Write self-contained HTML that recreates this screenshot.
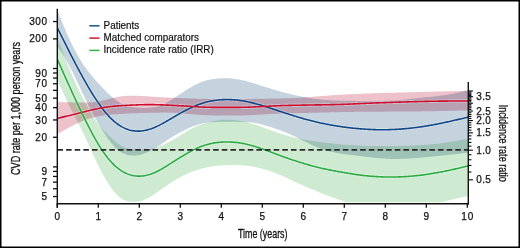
<!DOCTYPE html>
<html><head><meta charset="utf-8"><title>chart</title>
<style>html,body{margin:0;padding:0;background:#fff;}body{width:520px;height:248px;overflow:hidden;font-family:"Liberation Sans",sans-serif;}svg{display:block;will-change:transform;}</style>
</head><body>
<svg width="520" height="248" viewBox="0 0 520 248">
<rect x="0" y="0" width="520" height="248" fill="#fff"/>
<defs><clipPath id="pc"><rect x="57.3" y="8.7" width="410.9" height="193.5"/></clipPath></defs>
<g clip-path="url(#pc)">
<path d="M55,4.29L56,6.83L57,9.37L58,11.9L59,14.43L60,16.93L61,19.42L62,21.89L63,24.32L64,26.73L65,29.09L66,31.42L67,33.71L68,35.95L69,38.15L70,40.31L71,42.43L72,44.5L73,46.52L74,48.49L75,50.41L76,52.29L77,54.11L78,55.89L79,57.61L80,59.29L81,60.92L82,62.5L83,64.03L84,65.51L85,66.96L86,68.36L87,69.72L88,71.04L89,72.34L90,73.6L91,74.84L92,76.06L93,77.25L94,78.42L95,79.58L96,80.72L97,81.84L98,82.95L99,84.05L100,85.13L101,86.2L102,87.26L103,88.3L104,89.33L105,90.35L106,91.34L107,92.32L108,93.28L109,94.22L110,95.14L111,96.04L112,96.92L113,97.77L114,98.59L115,99.39L116,100.15L117,100.88L118,101.58L119,102.23L120,102.84L121,103.41L122,103.93L123,104.41L124,104.84L125,105.23L126,105.58L127,105.89L128,106.17L129,106.41L130,106.62L131,106.81L132,106.98L133,107.12L134,107.25L135,107.37L136,107.47L137,107.57L138,107.65L139,107.73L140,107.79L141,107.84L142,107.88L143,107.9L144,107.91L145,107.91L146,107.89L147,107.85L148,107.81L149,107.74L150,107.66L151,107.56L152,107.44L153,107.31L154,107.14L155,106.96L156,106.74L157,106.5L158,106.23L159,105.92L160,105.58L161,105.21L162,104.81L163,104.37L164,103.91L165,103.42L166,102.9L167,102.35L168,101.79L169,101.2L170,100.6L171,99.98L172,99.35L173,98.72L174,98.07L175,97.42L176,96.77L177,96.11L178,95.45L179,94.79L180,94.13L181,93.47L182,92.81L183,92.15L184,91.5L185,90.85L186,90.21L187,89.57L188,88.95L189,88.33L190,87.73L191,87.14L192,86.56L193,86L194,85.46L195,84.94L196,84.44L197,83.96L198,83.49L199,83.05L200,82.64L201,82.24L202,81.86L203,81.51L204,81.18L205,80.87L206,80.59L207,80.32L208,80.07L209,79.84L210,79.63L211,79.44L212,79.26L213,79.1L214,78.95L215,78.82L216,78.7L217,78.59L218,78.5L219,78.42L220,78.35L221,78.29L222,78.25L223,78.22L224,78.21L225,78.21L226,78.22L227,78.25L228,78.28L229,78.34L230,78.4L231,78.48L232,78.57L233,78.67L234,78.79L235,78.92L236,79.06L237,79.21L238,79.38L239,79.56L240,79.75L241,79.95L242,80.16L243,80.39L244,80.62L245,80.86L246,81.12L247,81.38L248,81.65L249,81.93L250,82.22L251,82.51L252,82.81L253,83.11L254,83.41L255,83.72L256,84.03L257,84.33L258,84.64L259,84.95L260,85.27L261,85.58L262,85.89L263,86.21L264,86.52L265,86.84L266,87.15L267,87.47L268,87.79L269,88.1L270,88.42L271,88.73L272,89.04L273,89.35L274,89.65L275,89.95L276,90.25L277,90.54L278,90.83L279,91.12L280,91.4L281,91.68L282,91.95L283,92.22L284,92.49L285,92.75L286,93.01L287,93.26L288,93.51L289,93.76L290,94L291,94.24L292,94.48L293,94.71L294,94.94L295,95.17L296,95.39L297,95.61L298,95.82L299,96.03L300,96.24L301,96.44L302,96.64L303,96.84L304,97.03L305,97.22L306,97.4L307,97.58L308,97.75L309,97.92L310,98.09L311,98.25L312,98.41L313,98.56L314,98.7L315,98.84L316,98.98L317,99.11L318,99.23L319,99.35L320,99.46L321,99.56L322,99.66L323,99.75L324,99.84L325,99.92L326,99.99L327,100.06L328,100.12L329,100.18L330,100.24L331,100.29L332,100.34L333,100.38L334,100.43L335,100.46L336,100.5L337,100.53L338,100.56L339,100.59L340,100.62L341,100.64L342,100.66L343,100.69L344,100.71L345,100.72L346,100.74L347,100.76L348,100.78L349,100.79L350,100.81L351,100.82L352,100.83L353,100.84L354,100.86L355,100.87L356,100.88L357,100.89L358,100.9L359,100.91L360,100.92L361,100.94L362,100.95L363,100.96L364,100.97L365,100.98L366,100.99L367,101L368,101.01L369,101.02L370,101.02L371,101.03L372,101.03L373,101.03L374,101.03L375,101.03L376,101.03L377,101.02L378,101.01L379,101L380,100.99L381,100.97L382,100.95L383,100.93L384,100.9L385,100.87L386,100.84L387,100.8L388,100.76L389,100.72L390,100.67L391,100.62L392,100.56L393,100.5L394,100.43L395,100.37L396,100.29L397,100.22L398,100.14L399,100.06L400,99.97L401,99.88L402,99.79L403,99.7L404,99.6L405,99.5L406,99.4L407,99.3L408,99.19L409,99.08L410,98.98L411,98.87L412,98.76L413,98.64L414,98.53L415,98.42L416,98.31L417,98.2L418,98.09L419,97.98L420,97.87L421,97.77L422,97.66L423,97.56L424,97.46L425,97.37L426,97.27L427,97.17L428,97.07L429,96.98L430,96.88L431,96.78L432,96.68L433,96.57L434,96.47L435,96.36L436,96.25L437,96.14L438,96.02L439,95.9L440,95.78L441,95.65L442,95.52L443,95.38L444,95.24L445,95.1L446,94.94L447,94.79L448,94.63L449,94.46L450,94.28L451,94.11L452,93.92L453,93.73L454,93.53L455,93.33L456,93.12L457,92.9L458,92.68L459,92.45L460,92.21L461,91.97L462,91.72L463,91.46L464,91.2L465,90.94L466,90.67L467,90.4L468,90.12L469,89.85L470,89.57L470,152.4L469,152.52L468,152.64L467,152.75L466,152.87L465,152.99L464,153.1L463,153.22L462,153.34L461,153.45L460,153.57L459,153.69L458,153.8L457,153.92L456,154.03L455,154.15L454,154.26L453,154.37L452,154.49L451,154.6L450,154.71L449,154.82L448,154.93L447,155.04L446,155.15L445,155.26L444,155.37L443,155.48L442,155.59L441,155.69L440,155.8L439,155.91L438,156.01L437,156.11L436,156.22L435,156.32L434,156.42L433,156.52L432,156.62L431,156.71L430,156.81L429,156.91L428,157L427,157.09L426,157.19L425,157.28L424,157.37L423,157.46L422,157.54L421,157.63L420,157.71L419,157.8L418,157.88L417,157.96L416,158.04L415,158.11L414,158.19L413,158.26L412,158.33L411,158.39L410,158.46L409,158.52L408,158.57L407,158.63L406,158.68L405,158.72L404,158.77L403,158.81L402,158.84L401,158.87L400,158.89L399,158.92L398,158.93L397,158.94L396,158.95L395,158.95L394,158.94L393,158.93L392,158.91L391,158.89L390,158.86L389,158.82L388,158.78L387,158.73L386,158.68L385,158.62L384,158.56L383,158.49L382,158.41L381,158.33L380,158.25L379,158.16L378,158.07L377,157.98L376,157.88L375,157.78L374,157.67L373,157.57L372,157.46L371,157.35L370,157.24L369,157.12L368,157L367,156.89L366,156.77L365,156.65L364,156.53L363,156.41L362,156.29L361,156.17L360,156.05L359,155.94L358,155.82L357,155.7L356,155.58L355,155.46L354,155.35L353,155.23L352,155.1L351,154.98L350,154.85L349,154.73L348,154.6L347,154.46L346,154.33L345,154.19L344,154.04L343,153.89L342,153.74L341,153.58L340,153.42L339,153.25L338,153.08L337,152.9L336,152.71L335,152.51L334,152.31L333,152.1L332,151.88L331,151.65L330,151.41L329,151.16L328,150.9L327,150.63L326,150.34L325,150.05L324,149.74L323,149.41L322,149.08L321,148.72L320,148.36L319,147.97L318,147.58L317,147.17L316,146.74L315,146.31L314,145.86L313,145.41L312,144.94L311,144.47L310,143.99L309,143.5L308,143.01L307,142.51L306,142.01L305,141.51L304,141.01L303,140.5L302,140L301,139.5L300,139L299,138.5L298,138.01L297,137.52L296,137.03L295,136.56L294,136.09L293,135.62L292,135.16L291,134.71L290,134.27L289,133.84L288,133.41L287,132.99L286,132.58L285,132.18L284,131.79L283,131.4L282,131.02L281,130.65L280,130.29L279,129.93L278,129.58L277,129.23L276,128.89L275,128.55L274,128.21L273,127.88L272,127.55L271,127.22L270,126.9L269,126.59L268,126.28L267,125.97L266,125.67L265,125.38L264,125.1L263,124.82L262,124.55L261,124.29L260,124.04L259,123.8L258,123.57L257,123.36L256,123.16L255,122.98L254,122.81L253,122.67L252,122.54L251,122.43L250,122.35L249,122.28L248,122.22L247,122.18L246,122.15L245,122.12L244,122.1L243,122.08L242,122.05L241,122.02L240,121.99L239,121.96L238,121.92L237,121.89L236,121.85L235,121.82L234,121.78L233,121.75L232,121.72L231,121.69L230,121.67L229,121.65L228,121.64L227,121.63L226,121.63L225,121.64L224,121.65L223,121.67L222,121.7L221,121.73L220,121.77L219,121.81L218,121.85L217,121.9L216,121.95L215,122L214,122.05L213,122.1L212,122.16L211,122.23L210,122.3L209,122.39L208,122.49L207,122.61L206,122.74L205,122.9L204,123.08L203,123.28L202,123.5L201,123.74L200,124.01L199,124.29L198,124.59L197,124.91L196,125.25L195,125.6L194,125.97L193,126.36L192,126.76L191,127.17L190,127.6L189,128.04L188,128.49L187,128.96L186,129.43L185,129.92L184,130.41L183,130.92L182,131.43L181,131.96L180,132.49L179,133.03L178,133.58L177,134.14L176,134.72L175,135.3L174,135.89L173,136.49L172,137.11L171,137.73L170,138.37L169,139.01L168,139.67L167,140.33L166,141L165,141.67L164,142.35L163,143.03L162,143.72L161,144.4L160,145.07L159,145.74L158,146.39L157,147.03L156,147.66L155,148.27L154,148.86L153,149.43L152,149.99L151,150.52L150,151.03L149,151.52L148,151.99L147,152.43L146,152.85L145,153.25L144,153.61L143,153.96L142,154.27L141,154.55L140,154.8L139,155.02L138,155.2L137,155.35L136,155.46L135,155.54L134,155.57L133,155.57L132,155.53L131,155.45L130,155.33L129,155.17L128,154.96L127,154.71L126,154.41L125,154.05L124,153.65L123,153.18L122,152.66L121,152.08L120,151.43L119,150.72L118,149.94L117,149.09L116,148.17L115,147.18L114,146.13L113,145.02L112,143.85L111,142.63L110,141.35L109,140.03L108,138.66L107,137.25L106,135.79L105,134.3L104,132.77L103,131.21L102,129.62L101,128.01L100,126.37L99,124.71L98,123.02L97,121.31L96,119.57L95,117.79L94,115.98L93,114.14L92,112.24L91,110.31L90,108.33L89,106.33L88,104.31L87,102.27L86,100.22L85,98.16L84,96.09L83,94.01L82,91.92L81,89.82L80,87.71L79,85.59L78,83.48L77,81.37L76,79.28L75,77.2L74,75.14L73,73.1L72,71.08L71,69.08L70,67.11L69,65.17L68,63.27L67,61.42L66,59.63L65,57.89L64,56.21L63,54.58L62,52.99L61,51.45L60,49.96L59,48.49L58,47.06L57,45.63L56,44.22Z" fill="rgb(197,211,223)" style="mix-blend-mode:multiply"/>
<path d="M56,102.08L57,102.09L58,102.1L59,102.11L60,102.12L61,102.13L62,102.14L63,102.15L64,102.17L65,102.18L66,102.2L67,102.22L68,102.24L69,102.26L70,102.29L71,102.32L72,102.35L73,102.38L74,102.41L75,102.44L76,102.47L77,102.5L78,102.53L79,102.55L80,102.58L81,102.59L82,102.61L83,102.61L84,102.61L85,102.61L86,102.59L87,102.57L88,102.54L89,102.5L90,102.45L91,102.38L92,102.31L93,102.22L94,102.12L95,102L96,101.87L97,101.71L98,101.54L99,101.36L100,101.15L101,100.93L102,100.7L103,100.46L104,100.21L105,99.96L106,99.7L107,99.43L108,99.17L109,98.9L110,98.64L111,98.38L112,98.14L113,97.9L114,97.67L115,97.46L116,97.25L117,97.06L118,96.88L119,96.72L120,96.56L121,96.42L122,96.3L123,96.18L124,96.08L125,96L126,95.92L127,95.86L128,95.81L129,95.78L130,95.75L131,95.73L132,95.72L133,95.72L134,95.73L135,95.74L136,95.76L137,95.79L138,95.82L139,95.85L140,95.89L141,95.93L142,95.98L143,96.03L144,96.09L145,96.15L146,96.21L147,96.28L148,96.35L149,96.42L150,96.49L151,96.57L152,96.64L153,96.72L154,96.79L155,96.87L156,96.93L157,97L158,97.06L159,97.12L160,97.18L161,97.23L162,97.28L163,97.33L164,97.38L165,97.43L166,97.47L167,97.51L168,97.55L169,97.59L170,97.63L171,97.67L172,97.71L173,97.75L174,97.79L175,97.83L176,97.87L177,97.91L178,97.95L179,97.99L180,98.03L181,98.07L182,98.11L183,98.15L184,98.19L185,98.23L186,98.27L187,98.31L188,98.35L189,98.38L190,98.42L191,98.46L192,98.49L193,98.52L194,98.56L195,98.59L196,98.62L197,98.65L198,98.67L199,98.7L200,98.72L201,98.74L202,98.77L203,98.79L204,98.81L205,98.83L206,98.84L207,98.86L208,98.87L209,98.89L210,98.9L211,98.91L212,98.92L213,98.94L214,98.94L215,98.95L216,98.96L217,98.97L218,98.98L219,98.98L220,98.99L221,98.99L222,98.99L223,99L224,99L225,99L226,99L227,99.01L228,99.01L229,99.01L230,99.01L231,99.01L232,99.01L233,99L234,99L235,99L236,99L237,98.99L238,98.99L239,98.98L240,98.98L241,98.97L242,98.97L243,98.96L244,98.95L245,98.94L246,98.94L247,98.93L248,98.92L249,98.91L250,98.9L251,98.89L252,98.88L253,98.86L254,98.85L255,98.84L256,98.83L257,98.81L258,98.8L259,98.78L260,98.77L261,98.76L262,98.74L263,98.72L264,98.71L265,98.69L266,98.68L267,98.66L268,98.64L269,98.63L270,98.61L271,98.59L272,98.58L273,98.56L274,98.54L275,98.52L276,98.5L277,98.48L278,98.46L279,98.44L280,98.42L281,98.4L282,98.37L283,98.35L284,98.32L285,98.3L286,98.27L287,98.24L288,98.21L289,98.17L290,98.14L291,98.1L292,98.06L293,98.02L294,97.98L295,97.93L296,97.89L297,97.84L298,97.79L299,97.73L300,97.68L301,97.62L302,97.56L303,97.5L304,97.43L305,97.36L306,97.29L307,97.22L308,97.15L309,97.07L310,97L311,96.92L312,96.84L313,96.77L314,96.69L315,96.61L316,96.52L317,96.44L318,96.36L319,96.28L320,96.2L321,96.12L322,96.04L323,95.96L324,95.88L325,95.8L326,95.72L327,95.64L328,95.57L329,95.49L330,95.42L331,95.35L332,95.28L333,95.21L334,95.14L335,95.07L336,95.01L337,94.95L338,94.88L339,94.82L340,94.77L341,94.71L342,94.65L343,94.6L344,94.54L345,94.49L346,94.44L347,94.38L348,94.33L349,94.28L350,94.24L351,94.19L352,94.14L353,94.1L354,94.05L355,94.01L356,93.96L357,93.92L358,93.88L359,93.84L360,93.8L361,93.76L362,93.72L363,93.68L364,93.64L365,93.6L366,93.56L367,93.53L368,93.49L369,93.45L370,93.42L371,93.38L372,93.35L373,93.31L374,93.28L375,93.25L376,93.21L377,93.18L378,93.15L379,93.11L380,93.08L381,93.05L382,93.02L383,92.99L384,92.96L385,92.93L386,92.9L387,92.87L388,92.84L389,92.81L390,92.78L391,92.76L392,92.73L393,92.7L394,92.67L395,92.64L396,92.62L397,92.59L398,92.56L399,92.54L400,92.51L401,92.48L402,92.46L403,92.43L404,92.41L405,92.38L406,92.35L407,92.33L408,92.3L409,92.28L410,92.25L411,92.23L412,92.2L413,92.18L414,92.15L415,92.13L416,92.1L417,92.07L418,92.05L419,92.02L420,92L421,91.97L422,91.95L423,91.92L424,91.9L425,91.87L426,91.85L427,91.82L428,91.8L429,91.77L430,91.74L431,91.72L432,91.69L433,91.67L434,91.64L435,91.62L436,91.59L437,91.56L438,91.54L439,91.51L440,91.49L441,91.46L442,91.43L443,91.41L444,91.38L445,91.36L446,91.33L447,91.3L448,91.28L449,91.25L450,91.23L451,91.2L452,91.17L453,91.15L454,91.12L455,91.09L456,91.07L457,91.04L458,91.02L459,90.99L460,90.96L461,90.94L462,90.91L463,90.88L464,90.86L465,90.83L466,90.81L467,90.78L468,90.75L469,90.73L470,90.7L470,110.3L469,110.33L468,110.35L467,110.38L466,110.41L465,110.43L464,110.46L463,110.49L462,110.51L461,110.54L460,110.57L459,110.59L458,110.62L457,110.64L456,110.67L455,110.69L454,110.72L453,110.74L452,110.77L451,110.79L450,110.82L449,110.84L448,110.87L447,110.89L446,110.91L445,110.94L444,110.96L443,110.98L442,111L441,111.03L440,111.05L439,111.07L438,111.09L437,111.11L436,111.13L435,111.15L434,111.17L433,111.19L432,111.21L431,111.23L430,111.25L429,111.26L428,111.28L427,111.3L426,111.31L425,111.33L424,111.34L423,111.36L422,111.37L421,111.38L420,111.4L419,111.41L418,111.42L417,111.43L416,111.44L415,111.45L414,111.46L413,111.47L412,111.48L411,111.49L410,111.5L409,111.51L408,111.51L407,111.52L406,111.53L405,111.53L404,111.54L403,111.54L402,111.55L401,111.56L400,111.56L399,111.57L398,111.57L397,111.57L396,111.58L395,111.58L394,111.59L393,111.59L392,111.6L391,111.6L390,111.6L389,111.61L388,111.61L387,111.62L386,111.62L385,111.62L384,111.63L383,111.63L382,111.64L381,111.64L380,111.65L379,111.65L378,111.66L377,111.66L376,111.67L375,111.67L374,111.68L373,111.69L372,111.69L371,111.7L370,111.71L369,111.71L368,111.72L367,111.73L366,111.74L365,111.75L364,111.76L363,111.77L362,111.78L361,111.79L360,111.8L359,111.82L358,111.83L357,111.84L356,111.86L355,111.87L354,111.88L353,111.9L352,111.92L351,111.93L350,111.95L349,111.97L348,111.98L347,112L346,112.02L345,112.04L344,112.06L343,112.08L342,112.1L341,112.12L340,112.14L339,112.16L338,112.18L337,112.2L336,112.22L335,112.25L334,112.27L333,112.29L332,112.31L331,112.34L330,112.36L329,112.38L328,112.41L327,112.43L326,112.45L325,112.48L324,112.5L323,112.53L322,112.55L321,112.58L320,112.6L319,112.63L318,112.65L317,112.68L316,112.7L315,112.73L314,112.75L313,112.77L312,112.8L311,112.82L310,112.85L309,112.87L308,112.9L307,112.92L306,112.95L305,112.97L304,113L303,113.02L302,113.04L301,113.07L300,113.09L299,113.11L298,113.14L297,113.16L296,113.18L295,113.2L294,113.23L293,113.25L292,113.27L291,113.3L290,113.32L289,113.35L288,113.37L287,113.4L286,113.43L285,113.45L284,113.48L283,113.51L282,113.54L281,113.58L280,113.61L279,113.64L278,113.68L277,113.72L276,113.76L275,113.8L274,113.84L273,113.89L272,113.94L271,113.98L270,114.04L269,114.09L268,114.14L267,114.2L266,114.26L265,114.32L264,114.38L263,114.44L262,114.5L261,114.56L260,114.62L259,114.68L258,114.74L257,114.8L256,114.86L255,114.92L254,114.97L253,115.02L252,115.07L251,115.12L250,115.16L249,115.2L248,115.24L247,115.27L246,115.3L245,115.33L244,115.36L243,115.38L242,115.4L241,115.42L240,115.44L239,115.46L238,115.47L237,115.48L236,115.49L235,115.5L234,115.51L233,115.51L232,115.52L231,115.52L230,115.52L229,115.52L228,115.52L227,115.52L226,115.52L225,115.52L224,115.52L223,115.51L222,115.51L221,115.5L220,115.49L219,115.48L218,115.47L217,115.45L216,115.44L215,115.42L214,115.4L213,115.38L212,115.35L211,115.32L210,115.29L209,115.26L208,115.22L207,115.19L206,115.15L205,115.1L204,115.06L203,115.01L202,114.96L201,114.9L200,114.85L199,114.79L198,114.73L197,114.66L196,114.59L195,114.52L194,114.45L193,114.37L192,114.29L191,114.21L190,114.13L189,114.04L188,113.95L187,113.86L186,113.76L185,113.67L184,113.58L183,113.49L182,113.4L181,113.32L180,113.24L179,113.16L178,113.08L177,113.02L176,112.96L175,112.9L174,112.85L173,112.8L172,112.76L171,112.73L170,112.7L169,112.67L168,112.65L167,112.63L166,112.62L165,112.61L164,112.6L163,112.6L162,112.61L161,112.61L160,112.62L159,112.63L158,112.64L157,112.66L156,112.68L155,112.7L154,112.72L153,112.75L152,112.77L151,112.8L150,112.82L149,112.85L148,112.88L147,112.9L146,112.93L145,112.96L144,112.98L143,113.01L142,113.03L141,113.06L140,113.08L139,113.11L138,113.14L137,113.16L136,113.19L135,113.22L134,113.25L133,113.28L132,113.32L131,113.36L130,113.39L129,113.44L128,113.48L127,113.53L126,113.58L125,113.63L124,113.69L123,113.75L122,113.81L121,113.88L120,113.94L119,114.02L118,114.09L117,114.17L116,114.25L115,114.34L114,114.43L113,114.52L112,114.61L111,114.7L110,114.8L109,114.9L108,115L107,115.11L106,115.22L105,115.34L104,115.47L103,115.6L102,115.74L101,115.89L100,116.05L99,116.23L98,116.41L97,116.61L96,116.82L95,117.04L94,117.28L93,117.53L92,117.79L91,118.07L90,118.36L89,118.67L88,118.99L87,119.33L86,119.68L85,120.05L84,120.43L83,120.82L82,121.23L81,121.65L80,122.09L79,122.53L78,123L77,123.47L76,123.95L75,124.45L74,124.95L73,125.46L72,125.98L71,126.5L70,127.03L69,127.57L68,128.11L67,128.65L66,129.2L65,129.74L64,130.29L63,130.84L62,131.39L61,131.94L60,132.49L59,133.04L58,133.6L57,134.15L56,134.7Z" fill="rgb(237,194,203)" style="mix-blend-mode:multiply"/>
<path d="M56,34.33L57,36.93L58,39.53L59,42.15L60,44.76L61,47.37L62,49.98L63,52.59L64,55.2L65,57.81L66,60.41L67,62.99L68,65.55L69,68.05L70,70.49L71,72.88L72,75.21L73,77.49L74,79.74L75,81.94L76,84.11L77,86.25L78,88.36L79,90.44L80,92.49L81,94.51L82,96.49L83,98.45L84,100.37L85,102.27L86,104.15L87,105.99L88,107.81L89,109.6L90,111.35L91,113.07L92,114.75L93,116.37L94,117.95L95,119.47L96,120.93L97,122.34L98,123.69L99,124.98L100,126.23L101,127.42L102,128.57L103,129.67L104,130.74L105,131.78L106,132.79L107,133.78L108,134.75L109,135.7L110,136.64L111,137.56L112,138.47L113,139.37L114,140.26L115,141.13L116,141.97L117,142.78L118,143.55L119,144.28L120,144.96L121,145.59L122,146.16L123,146.68L124,147.13L125,147.53L126,147.88L127,148.19L128,148.45L129,148.67L130,148.85L131,149L132,149.13L133,149.23L134,149.31L135,149.38L136,149.43L137,149.47L138,149.49L139,149.51L140,149.51L141,149.5L142,149.49L143,149.47L144,149.43L145,149.39L146,149.33L147,149.26L148,149.17L149,149.06L150,148.93L151,148.78L152,148.6L153,148.4L154,148.17L155,147.91L156,147.63L157,147.31L158,146.97L159,146.6L160,146.21L161,145.8L162,145.37L163,144.92L164,144.46L165,144L166,143.52L167,143.03L168,142.54L169,142.03L170,141.51L171,140.97L172,140.41L173,139.84L174,139.25L175,138.65L176,138.04L177,137.42L178,136.79L179,136.16L180,135.52L181,134.89L182,134.26L183,133.64L184,133.03L185,132.42L186,131.83L187,131.24L188,130.67L189,130.11L190,129.57L191,129.04L192,128.53L193,128.03L194,127.55L195,127.09L196,126.64L197,126.21L198,125.8L199,125.4L200,125.01L201,124.64L202,124.29L203,123.94L204,123.62L205,123.3L206,123L207,122.71L208,122.43L209,122.17L210,121.91L211,121.67L212,121.44L213,121.22L214,121.01L215,120.81L216,120.63L217,120.46L218,120.31L219,120.17L220,120.05L221,119.94L222,119.85L223,119.77L224,119.71L225,119.67L226,119.65L227,119.64L228,119.65L229,119.67L230,119.72L231,119.77L232,119.85L233,119.93L234,120.03L235,120.15L236,120.28L237,120.42L238,120.57L239,120.73L240,120.89L241,121.07L242,121.26L243,121.45L244,121.66L245,121.87L246,122.1L247,122.33L248,122.57L249,122.83L250,123.09L251,123.37L252,123.66L253,123.95L254,124.26L255,124.58L256,124.9L257,125.24L258,125.58L259,125.92L260,126.27L261,126.63L262,126.98L263,127.34L264,127.7L265,128.06L266,128.42L267,128.79L268,129.15L269,129.51L270,129.87L271,130.24L272,130.6L273,130.96L274,131.31L275,131.67L276,132.02L277,132.38L278,132.72L279,133.07L280,133.41L281,133.74L282,134.07L283,134.39L284,134.71L285,135.02L286,135.32L287,135.61L288,135.9L289,136.18L290,136.45L291,136.71L292,136.96L293,137.21L294,137.45L295,137.69L296,137.92L297,138.14L298,138.36L299,138.57L300,138.78L301,138.98L302,139.18L303,139.37L304,139.55L305,139.74L306,139.91L307,140.09L308,140.25L309,140.42L310,140.58L311,140.74L312,140.89L313,141.04L314,141.19L315,141.33L316,141.48L317,141.61L318,141.75L319,141.88L320,142.01L321,142.14L322,142.27L323,142.39L324,142.52L325,142.64L326,142.76L327,142.87L328,142.99L329,143.1L330,143.21L331,143.32L332,143.42L333,143.53L334,143.63L335,143.73L336,143.83L337,143.93L338,144.02L339,144.11L340,144.2L341,144.29L342,144.38L343,144.47L344,144.55L345,144.63L346,144.71L347,144.79L348,144.86L349,144.93L350,145.01L351,145.07L352,145.14L353,145.21L354,145.27L355,145.33L356,145.39L357,145.44L358,145.49L359,145.55L360,145.59L361,145.64L362,145.68L363,145.72L364,145.76L365,145.8L366,145.83L367,145.87L368,145.9L369,145.92L370,145.95L371,145.97L372,146L373,146.02L374,146.03L375,146.05L376,146.06L377,146.08L378,146.09L379,146.09L380,146.1L381,146.11L382,146.11L383,146.11L384,146.11L385,146.11L386,146.11L387,146.1L388,146.1L389,146.09L390,146.08L391,146.07L392,146.06L393,146.04L394,146.03L395,146.01L396,145.99L397,145.97L398,145.95L399,145.93L400,145.91L401,145.88L402,145.85L403,145.83L404,145.8L405,145.77L406,145.74L407,145.7L408,145.67L409,145.63L410,145.59L411,145.55L412,145.51L413,145.46L414,145.42L415,145.37L416,145.32L417,145.27L418,145.22L419,145.16L420,145.1L421,145.05L422,144.98L423,144.92L424,144.85L425,144.78L426,144.71L427,144.64L428,144.56L429,144.48L430,144.4L431,144.31L432,144.23L433,144.13L434,144.04L435,143.94L436,143.84L437,143.74L438,143.63L439,143.51L440,143.4L441,143.28L442,143.16L443,143.03L444,142.9L445,142.76L446,142.62L447,142.48L448,142.33L449,142.17L450,142.02L451,141.86L452,141.69L453,141.52L454,141.34L455,141.16L456,140.97L457,140.78L458,140.59L459,140.39L460,140.19L461,139.98L462,139.77L463,139.56L464,139.35L465,139.13L466,138.91L467,138.69L468,138.47L469,138.25L470,138.03L470,195.6L469,195.82L468,196.04L467,196.26L466,196.48L465,196.7L464,196.92L463,197.14L462,197.36L461,197.58L460,197.79L459,198.01L458,198.23L457,198.45L456,198.67L455,198.89L454,199.12L453,199.34L452,199.56L451,199.79L450,200.02L449,200.25L448,200.49L447,200.73L446,200.97L445,201.23L444,201.48L443,201.74L442,202L441,202.27L440,202.53L439,202.78L438,203.04L437,203.28L436,203.52L435,203.74L434,203.96L433,204.16L432,204.35L431,204.53L430,204.71L429,204.87L428,205.03L427,205.18L426,205.32L425,205.46L424,205.59L423,205.72L422,205.85L421,205.97L420,206.1L419,206.22L418,206.34L417,206.46L416,206.58L415,206.7L414,206.81L413,206.93L412,207.04L411,207.15L410,207.26L409,207.37L408,207.47L407,207.57L406,207.67L405,207.76L404,207.86L403,207.94L402,208.03L401,208.11L400,208.18L399,208.26L398,208.32L397,208.39L396,208.44L395,208.5L394,208.55L393,208.59L392,208.63L391,208.66L390,208.68L389,208.71L388,208.72L387,208.73L386,208.73L385,208.72L384,208.71L383,208.69L382,208.66L381,208.63L380,208.59L379,208.54L378,208.48L377,208.41L376,208.34L375,208.26L374,208.17L373,208.07L372,207.96L371,207.84L370,207.71L369,207.58L368,207.43L367,207.27L366,207.11L365,206.93L364,206.74L363,206.54L362,206.34L361,206.12L360,205.89L359,205.64L358,205.39L357,205.13L356,204.86L355,204.58L354,204.3L353,204.01L352,203.71L351,203.42L350,203.12L349,202.81L348,202.51L347,202.2L346,201.9L345,201.59L344,201.27L343,200.96L342,200.64L341,200.32L340,199.99L339,199.67L338,199.33L337,199L336,198.66L335,198.32L334,197.97L333,197.62L332,197.26L331,196.9L330,196.54L329,196.17L328,195.8L327,195.42L326,195.03L325,194.64L324,194.25L323,193.85L322,193.44L321,193.04L320,192.62L319,192.21L318,191.79L317,191.37L316,190.95L315,190.53L314,190.11L313,189.68L312,189.26L311,188.83L310,188.41L309,187.99L308,187.57L307,187.15L306,186.73L305,186.31L304,185.89L303,185.46L302,185.03L301,184.6L300,184.16L299,183.72L298,183.27L297,182.81L296,182.35L295,181.88L294,181.4L293,180.92L292,180.44L291,179.96L290,179.48L289,179L288,178.52L287,178.05L286,177.58L285,177.12L284,176.66L283,176.21L282,175.77L281,175.34L280,174.91L279,174.49L278,174.08L277,173.68L276,173.29L275,172.9L274,172.52L273,172.16L272,171.79L271,171.44L270,171.1L269,170.76L268,170.43L267,170.12L266,169.81L265,169.51L264,169.21L263,168.93L262,168.66L261,168.39L260,168.14L259,167.9L258,167.66L257,167.44L256,167.22L255,167.01L254,166.82L253,166.63L252,166.46L251,166.29L250,166.14L249,165.99L248,165.86L247,165.73L246,165.62L245,165.51L244,165.42L243,165.33L242,165.25L241,165.18L240,165.13L239,165.08L238,165.04L237,165.01L236,164.99L235,164.97L234,164.97L233,164.97L232,164.98L231,165L230,165.02L229,165.05L228,165.09L227,165.13L226,165.18L225,165.23L224,165.29L223,165.35L222,165.42L221,165.49L220,165.57L219,165.66L218,165.76L217,165.86L216,165.97L215,166.09L214,166.22L213,166.35L212,166.5L211,166.66L210,166.82L209,167L208,167.19L207,167.39L206,167.6L205,167.82L204,168.06L203,168.3L202,168.56L201,168.83L200,169.11L199,169.4L198,169.71L197,170.03L196,170.36L195,170.7L194,171.06L193,171.43L192,171.81L191,172.2L190,172.61L189,173.03L188,173.46L187,173.91L186,174.37L185,174.84L184,175.32L183,175.82L182,176.33L181,176.85L180,177.39L179,177.94L178,178.5L177,179.07L176,179.65L175,180.25L174,180.85L173,181.46L172,182.07L171,182.7L170,183.34L169,183.99L168,184.65L167,185.31L166,185.99L165,186.67L164,187.37L163,188.06L162,188.76L161,189.46L160,190.16L159,190.87L158,191.57L157,192.26L156,192.95L155,193.63L154,194.3L153,194.96L152,195.59L151,196.22L150,196.82L149,197.39L148,197.94L147,198.46L146,198.94L145,199.39L144,199.79L143,200.17L142,200.5L141,200.8L140,201.06L139,201.29L138,201.48L137,201.64L136,201.77L135,201.86L134,201.91L133,201.93L132,201.92L131,201.86L130,201.76L129,201.62L128,201.43L127,201.18L126,200.87L125,200.51L124,200.08L123,199.58L122,199.01L121,198.37L120,197.65L119,196.85L118,195.98L117,195.02L116,193.98L115,192.86L114,191.67L113,190.4L112,189.06L111,187.65L110,186.17L109,184.62L108,183.03L107,181.39L106,179.7L105,177.99L104,176.24L103,174.45L102,172.63L101,170.76L100,168.86L99,166.91L98,164.91L97,162.88L96,160.8L95,158.69L94,156.55L93,154.38L92,152.18L91,149.97L90,147.76L89,145.54L88,143.32L87,141.13L86,138.96L85,136.82L84,134.72L83,132.65L82,130.61L81,128.61L80,126.63L79,124.69L78,122.76L77,120.84L76,118.93L75,117.02L74,115.11L73,113.18L72,111.23L71,109.26L70,107.26L69,105.23L68,103.17L67,101.09L66,98.99L65,96.85L64,94.69L63,92.48L62,90.23L61,87.94L60,85.59L59,83.2L58,80.79L57,78.38L56,75.96Z" fill="rgb(206,235,210)" style="mix-blend-mode:multiply"/>
</g>
<g clip-path="url(#pc)" fill="none" stroke-width="3.4" stroke="#fff" stroke-opacity="0.3" stroke-linejoin="round">
<path d="M56.5,26.13L57.5,28.14L58.5,30.15L59.5,32.16L60.5,34.17L61.5,36.18L62.5,38.18L63.5,40.18L64.5,42.18L65.5,44.17L66.5,46.16L67.5,48.14L68.5,50.12L69.5,52.09L70.5,54.06L71.5,56.01L72.5,57.96L73.5,59.9L74.5,61.83L75.5,63.75L76.5,65.65L77.5,67.55L78.5,69.43L79.5,71.29L80.5,73.14L81.5,74.98L82.5,76.8L83.5,78.6L84.5,80.39L85.5,82.16L86.5,83.91L87.5,85.64L88.5,87.35L89.5,89.04L90.5,90.71L91.5,92.35L92.5,93.97L93.5,95.56L94.5,97.13L95.5,98.67L96.5,100.18L97.5,101.67L98.5,103.12L99.5,104.55L100.5,105.94L101.5,107.3L102.5,108.62L103.5,109.92L104.5,111.17L105.5,112.4L106.5,113.58L107.5,114.73L108.5,115.84L109.5,116.91L110.5,117.94L111.5,118.93L112.5,119.88L113.5,120.79L114.5,121.66L115.5,122.49L116.5,123.28L117.5,124.02L118.5,124.72L119.5,125.39L120.5,126.01L121.5,126.6L122.5,127.14L123.5,127.65L124.5,128.12L125.5,128.56L126.5,128.95L127.5,129.32L128.5,129.65L129.5,129.94L130.5,130.2L131.5,130.42L132.5,130.62L133.5,130.78L134.5,130.9L135.5,131L136.5,131.07L137.5,131.1L138.5,131.11L139.5,131.08L140.5,131.03L141.5,130.95L142.5,130.83L143.5,130.69L144.5,130.53L145.5,130.33L146.5,130.11L147.5,129.87L148.5,129.59L149.5,129.3L150.5,128.98L151.5,128.64L152.5,128.27L153.5,127.88L154.5,127.48L155.5,127.05L156.5,126.6L157.5,126.14L158.5,125.65L159.5,125.16L160.5,124.64L161.5,124.12L162.5,123.58L163.5,123.03L164.5,122.46L165.5,121.89L166.5,121.32L167.5,120.73L168.5,120.15L169.5,119.56L170.5,118.97L171.5,118.38L172.5,117.79L173.5,117.2L174.5,116.61L175.5,116.02L176.5,115.44L177.5,114.86L178.5,114.29L179.5,113.72L180.5,113.16L181.5,112.61L182.5,112.06L183.5,111.52L184.5,110.99L185.5,110.46L186.5,109.95L187.5,109.44L188.5,108.94L189.5,108.46L190.5,107.98L191.5,107.51L192.5,107.06L193.5,106.61L194.5,106.18L195.5,105.76L196.5,105.36L197.5,104.96L198.5,104.58L199.5,104.22L200.5,103.87L201.5,103.53L202.5,103.21L203.5,102.9L204.5,102.6L205.5,102.32L206.5,102.06L207.5,101.81L208.5,101.57L209.5,101.34L210.5,101.13L211.5,100.94L212.5,100.76L213.5,100.59L214.5,100.43L215.5,100.29L216.5,100.17L217.5,100.05L218.5,99.95L219.5,99.86L220.5,99.78L221.5,99.72L222.5,99.66L223.5,99.62L224.5,99.59L225.5,99.57L226.5,99.56L227.5,99.56L228.5,99.57L229.5,99.6L230.5,99.63L231.5,99.67L232.5,99.73L233.5,99.79L234.5,99.87L235.5,99.95L236.5,100.05L237.5,100.15L238.5,100.27L239.5,100.39L240.5,100.52L241.5,100.67L242.5,100.82L243.5,100.99L244.5,101.16L245.5,101.34L246.5,101.54L247.5,101.74L248.5,101.95L249.5,102.17L250.5,102.4L251.5,102.64L252.5,102.88L253.5,103.13L254.5,103.39L255.5,103.66L256.5,103.93L257.5,104.21L258.5,104.5L259.5,104.79L260.5,105.08L261.5,105.38L262.5,105.69L263.5,106L264.5,106.31L265.5,106.62L266.5,106.94L267.5,107.26L268.5,107.58L269.5,107.9L270.5,108.23L271.5,108.55L272.5,108.88L273.5,109.21L274.5,109.54L275.5,109.88L276.5,110.21L277.5,110.54L278.5,110.87L279.5,111.2L280.5,111.53L281.5,111.86L282.5,112.19L283.5,112.51L284.5,112.83L285.5,113.15L286.5,113.47L287.5,113.79L288.5,114.11L289.5,114.43L290.5,114.74L291.5,115.05L292.5,115.36L293.5,115.67L294.5,115.98L295.5,116.29L296.5,116.59L297.5,116.9L298.5,117.2L299.5,117.5L300.5,117.79L301.5,118.09L302.5,118.38L303.5,118.67L304.5,118.95L305.5,119.23L306.5,119.51L307.5,119.78L308.5,120.05L309.5,120.32L310.5,120.58L311.5,120.84L312.5,121.09L313.5,121.34L314.5,121.58L315.5,121.82L316.5,122.06L317.5,122.29L318.5,122.51L319.5,122.74L320.5,122.96L321.5,123.17L322.5,123.38L323.5,123.59L324.5,123.79L325.5,123.99L326.5,124.18L327.5,124.37L328.5,124.56L329.5,124.74L330.5,124.92L331.5,125.1L332.5,125.28L333.5,125.45L334.5,125.62L335.5,125.78L336.5,125.94L337.5,126.1L338.5,126.25L339.5,126.41L340.5,126.55L341.5,126.7L342.5,126.84L343.5,126.97L344.5,127.11L345.5,127.24L346.5,127.37L347.5,127.49L348.5,127.61L349.5,127.73L350.5,127.85L351.5,127.97L352.5,128.08L353.5,128.18L354.5,128.29L355.5,128.39L356.5,128.49L357.5,128.58L358.5,128.67L359.5,128.76L360.5,128.84L361.5,128.92L362.5,128.99L363.5,129.07L364.5,129.13L365.5,129.2L366.5,129.26L367.5,129.32L368.5,129.37L369.5,129.42L370.5,129.47L371.5,129.51L372.5,129.55L373.5,129.59L374.5,129.62L375.5,129.65L376.5,129.68L377.5,129.7L378.5,129.71L379.5,129.73L380.5,129.74L381.5,129.74L382.5,129.74L383.5,129.74L384.5,129.73L385.5,129.72L386.5,129.71L387.5,129.69L388.5,129.67L389.5,129.64L390.5,129.61L391.5,129.57L392.5,129.53L393.5,129.49L394.5,129.44L395.5,129.39L396.5,129.34L397.5,129.28L398.5,129.22L399.5,129.15L400.5,129.08L401.5,129L402.5,128.92L403.5,128.84L404.5,128.76L405.5,128.67L406.5,128.57L407.5,128.48L408.5,128.38L409.5,128.27L410.5,128.16L411.5,128.05L412.5,127.93L413.5,127.82L414.5,127.69L415.5,127.57L416.5,127.44L417.5,127.3L418.5,127.17L419.5,127.03L420.5,126.88L421.5,126.74L422.5,126.59L423.5,126.43L424.5,126.28L425.5,126.12L426.5,125.95L427.5,125.79L428.5,125.62L429.5,125.45L430.5,125.27L431.5,125.1L432.5,124.92L433.5,124.73L434.5,124.55L435.5,124.36L436.5,124.17L437.5,123.97L438.5,123.77L439.5,123.57L440.5,123.37L441.5,123.17L442.5,122.96L443.5,122.75L444.5,122.54L445.5,122.32L446.5,122.11L447.5,121.89L448.5,121.67L449.5,121.44L450.5,121.22L451.5,121L452.5,120.77L453.5,120.54L454.5,120.31L455.5,120.08L456.5,119.85L457.5,119.62L458.5,119.38L459.5,119.15L460.5,118.91L461.5,118.68L462.5,118.44L463.5,118.2L464.5,117.97L465.5,117.73L466.5,117.49L467.5,117.25L468.5,117.02"/>
<path d="M56.5,118.67L57.5,118.41L58.5,118.15L59.5,117.9L60.5,117.64L61.5,117.39L62.5,117.14L63.5,116.89L64.5,116.65L65.5,116.4L66.5,116.16L67.5,115.92L68.5,115.68L69.5,115.44L70.5,115.21L71.5,114.97L72.5,114.73L73.5,114.49L74.5,114.25L75.5,114.01L76.5,113.77L77.5,113.52L78.5,113.28L79.5,113.03L80.5,112.79L81.5,112.54L82.5,112.3L83.5,112.05L84.5,111.8L85.5,111.55L86.5,111.3L87.5,111.05L88.5,110.8L89.5,110.56L90.5,110.31L91.5,110.07L92.5,109.83L93.5,109.6L94.5,109.37L95.5,109.14L96.5,108.92L97.5,108.7L98.5,108.49L99.5,108.29L100.5,108.1L101.5,107.91L102.5,107.73L103.5,107.56L104.5,107.4L105.5,107.24L106.5,107.1L107.5,106.96L108.5,106.82L109.5,106.7L110.5,106.58L111.5,106.47L112.5,106.36L113.5,106.26L114.5,106.16L115.5,106.08L116.5,105.99L117.5,105.91L118.5,105.84L119.5,105.76L120.5,105.7L121.5,105.63L122.5,105.57L123.5,105.51L124.5,105.45L125.5,105.39L126.5,105.34L127.5,105.29L128.5,105.24L129.5,105.19L130.5,105.14L131.5,105.09L132.5,105.05L133.5,105.01L134.5,104.97L135.5,104.93L136.5,104.89L137.5,104.85L138.5,104.82L139.5,104.79L140.5,104.76L141.5,104.73L142.5,104.71L143.5,104.69L144.5,104.67L145.5,104.65L146.5,104.64L147.5,104.63L148.5,104.63L149.5,104.63L150.5,104.63L151.5,104.64L152.5,104.65L153.5,104.66L154.5,104.67L155.5,104.69L156.5,104.72L157.5,104.74L158.5,104.77L159.5,104.8L160.5,104.83L161.5,104.87L162.5,104.91L163.5,104.95L164.5,104.99L165.5,105.03L166.5,105.08L167.5,105.12L168.5,105.17L169.5,105.22L170.5,105.26L171.5,105.31L172.5,105.35L173.5,105.4L174.5,105.44L175.5,105.49L176.5,105.54L177.5,105.58L178.5,105.63L179.5,105.69L180.5,105.74L181.5,105.8L182.5,105.86L183.5,105.92L184.5,105.98L185.5,106.04L186.5,106.11L187.5,106.17L188.5,106.24L189.5,106.31L190.5,106.37L191.5,106.44L192.5,106.5L193.5,106.57L194.5,106.63L195.5,106.7L196.5,106.76L197.5,106.82L198.5,106.87L199.5,106.93L200.5,106.98L201.5,107.02L202.5,107.07L203.5,107.11L204.5,107.15L205.5,107.18L206.5,107.21L207.5,107.24L208.5,107.27L209.5,107.29L210.5,107.31L211.5,107.33L212.5,107.35L213.5,107.37L214.5,107.38L215.5,107.39L216.5,107.4L217.5,107.41L218.5,107.41L219.5,107.42L220.5,107.42L221.5,107.42L222.5,107.42L223.5,107.42L224.5,107.42L225.5,107.42L226.5,107.42L227.5,107.42L228.5,107.42L229.5,107.42L230.5,107.41L231.5,107.41L232.5,107.4L233.5,107.4L234.5,107.39L235.5,107.39L236.5,107.38L237.5,107.37L238.5,107.36L239.5,107.35L240.5,107.33L241.5,107.32L242.5,107.3L243.5,107.28L244.5,107.26L245.5,107.23L246.5,107.21L247.5,107.18L248.5,107.14L249.5,107.11L250.5,107.07L251.5,107.03L252.5,106.99L253.5,106.95L254.5,106.91L255.5,106.86L256.5,106.81L257.5,106.77L258.5,106.72L259.5,106.67L260.5,106.62L261.5,106.57L262.5,106.52L263.5,106.47L264.5,106.42L265.5,106.37L266.5,106.32L267.5,106.27L268.5,106.22L269.5,106.17L270.5,106.12L271.5,106.07L272.5,106.02L273.5,105.96L274.5,105.91L275.5,105.87L276.5,105.82L277.5,105.77L278.5,105.73L279.5,105.69L280.5,105.65L281.5,105.61L282.5,105.57L283.5,105.54L284.5,105.51L285.5,105.48L286.5,105.45L287.5,105.43L288.5,105.41L289.5,105.38L290.5,105.36L291.5,105.34L292.5,105.32L293.5,105.31L294.5,105.29L295.5,105.27L296.5,105.26L297.5,105.24L298.5,105.22L299.5,105.21L300.5,105.19L301.5,105.17L302.5,105.15L303.5,105.13L304.5,105.12L305.5,105.1L306.5,105.08L307.5,105.06L308.5,105.04L309.5,105.02L310.5,105.01L311.5,104.99L312.5,104.97L313.5,104.96L314.5,104.94L315.5,104.92L316.5,104.91L317.5,104.89L318.5,104.88L319.5,104.86L320.5,104.84L321.5,104.83L322.5,104.81L323.5,104.79L324.5,104.78L325.5,104.76L326.5,104.74L327.5,104.73L328.5,104.71L329.5,104.69L330.5,104.67L331.5,104.65L332.5,104.63L333.5,104.61L334.5,104.59L335.5,104.57L336.5,104.54L337.5,104.52L338.5,104.49L339.5,104.46L340.5,104.43L341.5,104.4L342.5,104.37L343.5,104.34L344.5,104.3L345.5,104.26L346.5,104.22L347.5,104.18L348.5,104.13L349.5,104.09L350.5,104.04L351.5,103.99L352.5,103.95L353.5,103.9L354.5,103.85L355.5,103.8L356.5,103.75L357.5,103.7L358.5,103.65L359.5,103.61L360.5,103.56L361.5,103.52L362.5,103.47L363.5,103.43L364.5,103.39L365.5,103.35L366.5,103.3L367.5,103.26L368.5,103.22L369.5,103.18L370.5,103.14L371.5,103.1L372.5,103.06L373.5,103.03L374.5,102.99L375.5,102.95L376.5,102.91L377.5,102.87L378.5,102.84L379.5,102.8L380.5,102.76L381.5,102.73L382.5,102.69L383.5,102.66L384.5,102.62L385.5,102.59L386.5,102.55L387.5,102.52L388.5,102.48L389.5,102.45L390.5,102.41L391.5,102.38L392.5,102.35L393.5,102.31L394.5,102.28L395.5,102.25L396.5,102.22L397.5,102.18L398.5,102.15L399.5,102.12L400.5,102.09L401.5,102.06L402.5,102.03L403.5,102L404.5,101.96L405.5,101.93L406.5,101.9L407.5,101.87L408.5,101.84L409.5,101.81L410.5,101.79L411.5,101.76L412.5,101.73L413.5,101.7L414.5,101.67L415.5,101.64L416.5,101.62L417.5,101.59L418.5,101.56L419.5,101.54L420.5,101.51L421.5,101.49L422.5,101.47L423.5,101.44L424.5,101.42L425.5,101.4L426.5,101.38L427.5,101.36L428.5,101.34L429.5,101.32L430.5,101.3L431.5,101.28L432.5,101.26L433.5,101.25L434.5,101.23L435.5,101.22L436.5,101.2L437.5,101.19L438.5,101.17L439.5,101.16L440.5,101.15L441.5,101.14L442.5,101.13L443.5,101.12L444.5,101.11L445.5,101.1L446.5,101.09L447.5,101.08L448.5,101.07L449.5,101.07L450.5,101.06L451.5,101.06L452.5,101.05L453.5,101.04L454.5,101.04L455.5,101.04L456.5,101.03L457.5,101.03L458.5,101.02L459.5,101.02L460.5,101.02L461.5,101.01L462.5,101.01L463.5,101.01L464.5,101L465.5,101L466.5,101L467.5,101L468.5,100.99"/>
<path d="M56.5,57.31L57.5,59.58L58.5,61.85L59.5,64.11L60.5,66.38L61.5,68.63L62.5,70.89L63.5,73.14L64.5,75.38L65.5,77.62L66.5,79.85L67.5,82.07L68.5,84.29L69.5,86.5L70.5,88.7L71.5,90.9L72.5,93.09L73.5,95.26L74.5,97.43L75.5,99.59L76.5,101.74L77.5,103.88L78.5,106L79.5,108.11L80.5,110.21L81.5,112.29L82.5,114.36L83.5,116.41L84.5,118.44L85.5,120.46L86.5,122.46L87.5,124.44L88.5,126.4L89.5,128.33L90.5,130.24L91.5,132.13L92.5,133.98L93.5,135.81L94.5,137.61L95.5,139.38L96.5,141.11L97.5,142.81L98.5,144.48L99.5,146.11L100.5,147.69L101.5,149.24L102.5,150.74L103.5,152.2L104.5,153.62L105.5,155L106.5,156.33L107.5,157.62L108.5,158.87L109.5,160.06L110.5,161.21L111.5,162.32L112.5,163.37L113.5,164.38L114.5,165.35L115.5,166.26L116.5,167.13L117.5,167.96L118.5,168.74L119.5,169.47L120.5,170.17L121.5,170.82L122.5,171.42L123.5,171.99L124.5,172.52L125.5,173.01L126.5,173.46L127.5,173.88L128.5,174.26L129.5,174.6L130.5,174.91L131.5,175.18L132.5,175.42L133.5,175.62L134.5,175.79L135.5,175.93L136.5,176.03L137.5,176.1L138.5,176.14L139.5,176.15L140.5,176.12L141.5,176.07L142.5,175.98L143.5,175.86L144.5,175.71L145.5,175.53L146.5,175.32L147.5,175.08L148.5,174.81L149.5,174.52L150.5,174.2L151.5,173.85L152.5,173.47L153.5,173.08L154.5,172.65L155.5,172.21L156.5,171.74L157.5,171.25L158.5,170.74L159.5,170.21L160.5,169.66L161.5,169.1L162.5,168.52L163.5,167.93L164.5,167.32L165.5,166.71L166.5,166.09L167.5,165.46L168.5,164.83L169.5,164.19L170.5,163.56L171.5,162.92L172.5,162.29L173.5,161.65L174.5,161.02L175.5,160.39L176.5,159.76L177.5,159.13L178.5,158.51L179.5,157.89L180.5,157.27L181.5,156.66L182.5,156.05L183.5,155.45L184.5,154.86L185.5,154.27L186.5,153.69L187.5,153.12L188.5,152.55L189.5,152L190.5,151.46L191.5,150.92L192.5,150.4L193.5,149.89L194.5,149.4L195.5,148.92L196.5,148.45L197.5,148L198.5,147.56L199.5,147.14L200.5,146.74L201.5,146.36L202.5,145.99L203.5,145.64L204.5,145.31L205.5,144.99L206.5,144.69L207.5,144.41L208.5,144.15L209.5,143.9L210.5,143.67L211.5,143.45L212.5,143.26L213.5,143.07L214.5,142.91L215.5,142.75L216.5,142.62L217.5,142.5L218.5,142.39L219.5,142.29L220.5,142.21L221.5,142.14L222.5,142.09L223.5,142.05L224.5,142.02L225.5,142L226.5,141.99L227.5,141.99L228.5,142.01L229.5,142.03L230.5,142.07L231.5,142.12L232.5,142.17L233.5,142.24L234.5,142.33L235.5,142.42L236.5,142.52L237.5,142.63L238.5,142.76L239.5,142.89L240.5,143.04L241.5,143.2L242.5,143.37L243.5,143.56L244.5,143.75L245.5,143.96L246.5,144.18L247.5,144.41L248.5,144.66L249.5,144.91L250.5,145.18L251.5,145.45L252.5,145.74L253.5,146.03L254.5,146.34L255.5,146.65L256.5,146.97L257.5,147.3L258.5,147.63L259.5,147.97L260.5,148.32L261.5,148.67L262.5,149.02L263.5,149.38L264.5,149.74L265.5,150.1L266.5,150.47L267.5,150.84L268.5,151.21L269.5,151.58L270.5,151.96L271.5,152.34L272.5,152.72L273.5,153.1L274.5,153.48L275.5,153.86L276.5,154.24L277.5,154.62L278.5,154.99L279.5,155.37L280.5,155.74L281.5,156.1L282.5,156.46L283.5,156.82L284.5,157.17L285.5,157.52L286.5,157.87L287.5,158.21L288.5,158.55L289.5,158.89L290.5,159.23L291.5,159.56L292.5,159.89L293.5,160.22L294.5,160.54L295.5,160.86L296.5,161.19L297.5,161.51L298.5,161.82L299.5,162.14L300.5,162.45L301.5,162.77L302.5,163.07L303.5,163.38L304.5,163.69L305.5,163.99L306.5,164.28L307.5,164.57L308.5,164.86L309.5,165.14L310.5,165.42L311.5,165.7L312.5,165.96L313.5,166.23L314.5,166.49L315.5,166.75L316.5,167L317.5,167.25L318.5,167.49L319.5,167.73L320.5,167.96L321.5,168.19L322.5,168.42L323.5,168.64L324.5,168.86L325.5,169.07L326.5,169.29L327.5,169.5L328.5,169.7L329.5,169.9L330.5,170.1L331.5,170.3L332.5,170.5L333.5,170.69L334.5,170.88L335.5,171.07L336.5,171.25L337.5,171.43L338.5,171.61L339.5,171.79L340.5,171.97L341.5,172.14L342.5,172.31L343.5,172.49L344.5,172.66L345.5,172.83L346.5,172.99L347.5,173.16L348.5,173.33L349.5,173.5L350.5,173.66L351.5,173.82L352.5,173.98L353.5,174.14L354.5,174.29L355.5,174.44L356.5,174.59L357.5,174.73L358.5,174.87L359.5,175L360.5,175.13L361.5,175.25L362.5,175.37L363.5,175.49L364.5,175.6L365.5,175.7L366.5,175.81L367.5,175.9L368.5,176L369.5,176.09L370.5,176.18L371.5,176.26L372.5,176.34L373.5,176.41L374.5,176.48L375.5,176.55L376.5,176.61L377.5,176.67L378.5,176.73L379.5,176.78L380.5,176.82L381.5,176.87L382.5,176.9L383.5,176.94L384.5,176.96L385.5,176.99L386.5,177.01L387.5,177.02L388.5,177.04L389.5,177.04L390.5,177.04L391.5,177.04L392.5,177.04L393.5,177.03L394.5,177.01L395.5,176.99L396.5,176.97L397.5,176.94L398.5,176.91L399.5,176.88L400.5,176.84L401.5,176.8L402.5,176.75L403.5,176.7L404.5,176.64L405.5,176.58L406.5,176.52L407.5,176.45L408.5,176.38L409.5,176.31L410.5,176.23L411.5,176.14L412.5,176.06L413.5,175.97L414.5,175.87L415.5,175.77L416.5,175.67L417.5,175.56L418.5,175.45L419.5,175.34L420.5,175.22L421.5,175.1L422.5,174.97L423.5,174.84L424.5,174.71L425.5,174.57L426.5,174.43L427.5,174.28L428.5,174.13L429.5,173.98L430.5,173.82L431.5,173.66L432.5,173.5L433.5,173.33L434.5,173.16L435.5,172.99L436.5,172.81L437.5,172.63L438.5,172.45L439.5,172.26L440.5,172.07L441.5,171.88L442.5,171.68L443.5,171.48L444.5,171.28L445.5,171.07L446.5,170.87L447.5,170.66L448.5,170.44L449.5,170.23L450.5,170.01L451.5,169.79L452.5,169.57L453.5,169.35L454.5,169.12L455.5,168.9L456.5,168.67L457.5,168.44L458.5,168.21L459.5,167.98L460.5,167.75L461.5,167.51L462.5,167.28L463.5,167.05L464.5,166.81L465.5,166.58L466.5,166.34L467.5,166.11L468.5,165.87"/>
</g>
<g clip-path="url(#pc)" fill="none" stroke-width="1.6" stroke-linejoin="round">
<path d="M56.5,26.13L57.5,28.14L58.5,30.15L59.5,32.16L60.5,34.17L61.5,36.18L62.5,38.18L63.5,40.18L64.5,42.18L65.5,44.17L66.5,46.16L67.5,48.14L68.5,50.12L69.5,52.09L70.5,54.06L71.5,56.01L72.5,57.96L73.5,59.9L74.5,61.83L75.5,63.75L76.5,65.65L77.5,67.55L78.5,69.43L79.5,71.29L80.5,73.14L81.5,74.98L82.5,76.8L83.5,78.6L84.5,80.39L85.5,82.16L86.5,83.91L87.5,85.64L88.5,87.35L89.5,89.04L90.5,90.71L91.5,92.35L92.5,93.97L93.5,95.56L94.5,97.13L95.5,98.67L96.5,100.18L97.5,101.67L98.5,103.12L99.5,104.55L100.5,105.94L101.5,107.3L102.5,108.62L103.5,109.92L104.5,111.17L105.5,112.4L106.5,113.58L107.5,114.73L108.5,115.84L109.5,116.91L110.5,117.94L111.5,118.93L112.5,119.88L113.5,120.79L114.5,121.66L115.5,122.49L116.5,123.28L117.5,124.02L118.5,124.72L119.5,125.39L120.5,126.01L121.5,126.6L122.5,127.14L123.5,127.65L124.5,128.12L125.5,128.56L126.5,128.95L127.5,129.32L128.5,129.65L129.5,129.94L130.5,130.2L131.5,130.42L132.5,130.62L133.5,130.78L134.5,130.9L135.5,131L136.5,131.07L137.5,131.1L138.5,131.11L139.5,131.08L140.5,131.03L141.5,130.95L142.5,130.83L143.5,130.69L144.5,130.53L145.5,130.33L146.5,130.11L147.5,129.87L148.5,129.59L149.5,129.3L150.5,128.98L151.5,128.64L152.5,128.27L153.5,127.88L154.5,127.48L155.5,127.05L156.5,126.6L157.5,126.14L158.5,125.65L159.5,125.16L160.5,124.64L161.5,124.12L162.5,123.58L163.5,123.03L164.5,122.46L165.5,121.89L166.5,121.32L167.5,120.73L168.5,120.15L169.5,119.56L170.5,118.97L171.5,118.38L172.5,117.79L173.5,117.2L174.5,116.61L175.5,116.02L176.5,115.44L177.5,114.86L178.5,114.29L179.5,113.72L180.5,113.16L181.5,112.61L182.5,112.06L183.5,111.52L184.5,110.99L185.5,110.46L186.5,109.95L187.5,109.44L188.5,108.94L189.5,108.46L190.5,107.98L191.5,107.51L192.5,107.06L193.5,106.61L194.5,106.18L195.5,105.76L196.5,105.36L197.5,104.96L198.5,104.58L199.5,104.22L200.5,103.87L201.5,103.53L202.5,103.21L203.5,102.9L204.5,102.6L205.5,102.32L206.5,102.06L207.5,101.81L208.5,101.57L209.5,101.34L210.5,101.13L211.5,100.94L212.5,100.76L213.5,100.59L214.5,100.43L215.5,100.29L216.5,100.17L217.5,100.05L218.5,99.95L219.5,99.86L220.5,99.78L221.5,99.72L222.5,99.66L223.5,99.62L224.5,99.59L225.5,99.57L226.5,99.56L227.5,99.56L228.5,99.57L229.5,99.6L230.5,99.63L231.5,99.67L232.5,99.73L233.5,99.79L234.5,99.87L235.5,99.95L236.5,100.05L237.5,100.15L238.5,100.27L239.5,100.39L240.5,100.52L241.5,100.67L242.5,100.82L243.5,100.99L244.5,101.16L245.5,101.34L246.5,101.54L247.5,101.74L248.5,101.95L249.5,102.17L250.5,102.4L251.5,102.64L252.5,102.88L253.5,103.13L254.5,103.39L255.5,103.66L256.5,103.93L257.5,104.21L258.5,104.5L259.5,104.79L260.5,105.08L261.5,105.38L262.5,105.69L263.5,106L264.5,106.31L265.5,106.62L266.5,106.94L267.5,107.26L268.5,107.58L269.5,107.9L270.5,108.23L271.5,108.55L272.5,108.88L273.5,109.21L274.5,109.54L275.5,109.88L276.5,110.21L277.5,110.54L278.5,110.87L279.5,111.2L280.5,111.53L281.5,111.86L282.5,112.19L283.5,112.51L284.5,112.83L285.5,113.15L286.5,113.47L287.5,113.79L288.5,114.11L289.5,114.43L290.5,114.74L291.5,115.05L292.5,115.36L293.5,115.67L294.5,115.98L295.5,116.29L296.5,116.59L297.5,116.9L298.5,117.2L299.5,117.5L300.5,117.79L301.5,118.09L302.5,118.38L303.5,118.67L304.5,118.95L305.5,119.23L306.5,119.51L307.5,119.78L308.5,120.05L309.5,120.32L310.5,120.58L311.5,120.84L312.5,121.09L313.5,121.34L314.5,121.58L315.5,121.82L316.5,122.06L317.5,122.29L318.5,122.51L319.5,122.74L320.5,122.96L321.5,123.17L322.5,123.38L323.5,123.59L324.5,123.79L325.5,123.99L326.5,124.18L327.5,124.37L328.5,124.56L329.5,124.74L330.5,124.92L331.5,125.1L332.5,125.28L333.5,125.45L334.5,125.62L335.5,125.78L336.5,125.94L337.5,126.1L338.5,126.25L339.5,126.41L340.5,126.55L341.5,126.7L342.5,126.84L343.5,126.97L344.5,127.11L345.5,127.24L346.5,127.37L347.5,127.49L348.5,127.61L349.5,127.73L350.5,127.85L351.5,127.97L352.5,128.08L353.5,128.18L354.5,128.29L355.5,128.39L356.5,128.49L357.5,128.58L358.5,128.67L359.5,128.76L360.5,128.84L361.5,128.92L362.5,128.99L363.5,129.07L364.5,129.13L365.5,129.2L366.5,129.26L367.5,129.32L368.5,129.37L369.5,129.42L370.5,129.47L371.5,129.51L372.5,129.55L373.5,129.59L374.5,129.62L375.5,129.65L376.5,129.68L377.5,129.7L378.5,129.71L379.5,129.73L380.5,129.74L381.5,129.74L382.5,129.74L383.5,129.74L384.5,129.73L385.5,129.72L386.5,129.71L387.5,129.69L388.5,129.67L389.5,129.64L390.5,129.61L391.5,129.57L392.5,129.53L393.5,129.49L394.5,129.44L395.5,129.39L396.5,129.34L397.5,129.28L398.5,129.22L399.5,129.15L400.5,129.08L401.5,129L402.5,128.92L403.5,128.84L404.5,128.76L405.5,128.67L406.5,128.57L407.5,128.48L408.5,128.38L409.5,128.27L410.5,128.16L411.5,128.05L412.5,127.93L413.5,127.82L414.5,127.69L415.5,127.57L416.5,127.44L417.5,127.3L418.5,127.17L419.5,127.03L420.5,126.88L421.5,126.74L422.5,126.59L423.5,126.43L424.5,126.28L425.5,126.12L426.5,125.95L427.5,125.79L428.5,125.62L429.5,125.45L430.5,125.27L431.5,125.1L432.5,124.92L433.5,124.73L434.5,124.55L435.5,124.36L436.5,124.17L437.5,123.97L438.5,123.77L439.5,123.57L440.5,123.37L441.5,123.17L442.5,122.96L443.5,122.75L444.5,122.54L445.5,122.32L446.5,122.11L447.5,121.89L448.5,121.67L449.5,121.44L450.5,121.22L451.5,121L452.5,120.77L453.5,120.54L454.5,120.31L455.5,120.08L456.5,119.85L457.5,119.62L458.5,119.38L459.5,119.15L460.5,118.91L461.5,118.68L462.5,118.44L463.5,118.2L464.5,117.97L465.5,117.73L466.5,117.49L467.5,117.25L468.5,117.02" stroke="rgb(18,72,135)"/>
<path d="M56.5,118.67L57.5,118.41L58.5,118.15L59.5,117.9L60.5,117.64L61.5,117.39L62.5,117.14L63.5,116.89L64.5,116.65L65.5,116.4L66.5,116.16L67.5,115.92L68.5,115.68L69.5,115.44L70.5,115.21L71.5,114.97L72.5,114.73L73.5,114.49L74.5,114.25L75.5,114.01L76.5,113.77L77.5,113.52L78.5,113.28L79.5,113.03L80.5,112.79L81.5,112.54L82.5,112.3L83.5,112.05L84.5,111.8L85.5,111.55L86.5,111.3L87.5,111.05L88.5,110.8L89.5,110.56L90.5,110.31L91.5,110.07L92.5,109.83L93.5,109.6L94.5,109.37L95.5,109.14L96.5,108.92L97.5,108.7L98.5,108.49L99.5,108.29L100.5,108.1L101.5,107.91L102.5,107.73L103.5,107.56L104.5,107.4L105.5,107.24L106.5,107.1L107.5,106.96L108.5,106.82L109.5,106.7L110.5,106.58L111.5,106.47L112.5,106.36L113.5,106.26L114.5,106.16L115.5,106.08L116.5,105.99L117.5,105.91L118.5,105.84L119.5,105.76L120.5,105.7L121.5,105.63L122.5,105.57L123.5,105.51L124.5,105.45L125.5,105.39L126.5,105.34L127.5,105.29L128.5,105.24L129.5,105.19L130.5,105.14L131.5,105.09L132.5,105.05L133.5,105.01L134.5,104.97L135.5,104.93L136.5,104.89L137.5,104.85L138.5,104.82L139.5,104.79L140.5,104.76L141.5,104.73L142.5,104.71L143.5,104.69L144.5,104.67L145.5,104.65L146.5,104.64L147.5,104.63L148.5,104.63L149.5,104.63L150.5,104.63L151.5,104.64L152.5,104.65L153.5,104.66L154.5,104.67L155.5,104.69L156.5,104.72L157.5,104.74L158.5,104.77L159.5,104.8L160.5,104.83L161.5,104.87L162.5,104.91L163.5,104.95L164.5,104.99L165.5,105.03L166.5,105.08L167.5,105.12L168.5,105.17L169.5,105.22L170.5,105.26L171.5,105.31L172.5,105.35L173.5,105.4L174.5,105.44L175.5,105.49L176.5,105.54L177.5,105.58L178.5,105.63L179.5,105.69L180.5,105.74L181.5,105.8L182.5,105.86L183.5,105.92L184.5,105.98L185.5,106.04L186.5,106.11L187.5,106.17L188.5,106.24L189.5,106.31L190.5,106.37L191.5,106.44L192.5,106.5L193.5,106.57L194.5,106.63L195.5,106.7L196.5,106.76L197.5,106.82L198.5,106.87L199.5,106.93L200.5,106.98L201.5,107.02L202.5,107.07L203.5,107.11L204.5,107.15L205.5,107.18L206.5,107.21L207.5,107.24L208.5,107.27L209.5,107.29L210.5,107.31L211.5,107.33L212.5,107.35L213.5,107.37L214.5,107.38L215.5,107.39L216.5,107.4L217.5,107.41L218.5,107.41L219.5,107.42L220.5,107.42L221.5,107.42L222.5,107.42L223.5,107.42L224.5,107.42L225.5,107.42L226.5,107.42L227.5,107.42L228.5,107.42L229.5,107.42L230.5,107.41L231.5,107.41L232.5,107.4L233.5,107.4L234.5,107.39L235.5,107.39L236.5,107.38L237.5,107.37L238.5,107.36L239.5,107.35L240.5,107.33L241.5,107.32L242.5,107.3L243.5,107.28L244.5,107.26L245.5,107.23L246.5,107.21L247.5,107.18L248.5,107.14L249.5,107.11L250.5,107.07L251.5,107.03L252.5,106.99L253.5,106.95L254.5,106.91L255.5,106.86L256.5,106.81L257.5,106.77L258.5,106.72L259.5,106.67L260.5,106.62L261.5,106.57L262.5,106.52L263.5,106.47L264.5,106.42L265.5,106.37L266.5,106.32L267.5,106.27L268.5,106.22L269.5,106.17L270.5,106.12L271.5,106.07L272.5,106.02L273.5,105.96L274.5,105.91L275.5,105.87L276.5,105.82L277.5,105.77L278.5,105.73L279.5,105.69L280.5,105.65L281.5,105.61L282.5,105.57L283.5,105.54L284.5,105.51L285.5,105.48L286.5,105.45L287.5,105.43L288.5,105.41L289.5,105.38L290.5,105.36L291.5,105.34L292.5,105.32L293.5,105.31L294.5,105.29L295.5,105.27L296.5,105.26L297.5,105.24L298.5,105.22L299.5,105.21L300.5,105.19L301.5,105.17L302.5,105.15L303.5,105.13L304.5,105.12L305.5,105.1L306.5,105.08L307.5,105.06L308.5,105.04L309.5,105.02L310.5,105.01L311.5,104.99L312.5,104.97L313.5,104.96L314.5,104.94L315.5,104.92L316.5,104.91L317.5,104.89L318.5,104.88L319.5,104.86L320.5,104.84L321.5,104.83L322.5,104.81L323.5,104.79L324.5,104.78L325.5,104.76L326.5,104.74L327.5,104.73L328.5,104.71L329.5,104.69L330.5,104.67L331.5,104.65L332.5,104.63L333.5,104.61L334.5,104.59L335.5,104.57L336.5,104.54L337.5,104.52L338.5,104.49L339.5,104.46L340.5,104.43L341.5,104.4L342.5,104.37L343.5,104.34L344.5,104.3L345.5,104.26L346.5,104.22L347.5,104.18L348.5,104.13L349.5,104.09L350.5,104.04L351.5,103.99L352.5,103.95L353.5,103.9L354.5,103.85L355.5,103.8L356.5,103.75L357.5,103.7L358.5,103.65L359.5,103.61L360.5,103.56L361.5,103.52L362.5,103.47L363.5,103.43L364.5,103.39L365.5,103.35L366.5,103.3L367.5,103.26L368.5,103.22L369.5,103.18L370.5,103.14L371.5,103.1L372.5,103.06L373.5,103.03L374.5,102.99L375.5,102.95L376.5,102.91L377.5,102.87L378.5,102.84L379.5,102.8L380.5,102.76L381.5,102.73L382.5,102.69L383.5,102.66L384.5,102.62L385.5,102.59L386.5,102.55L387.5,102.52L388.5,102.48L389.5,102.45L390.5,102.41L391.5,102.38L392.5,102.35L393.5,102.31L394.5,102.28L395.5,102.25L396.5,102.22L397.5,102.18L398.5,102.15L399.5,102.12L400.5,102.09L401.5,102.06L402.5,102.03L403.5,102L404.5,101.96L405.5,101.93L406.5,101.9L407.5,101.87L408.5,101.84L409.5,101.81L410.5,101.79L411.5,101.76L412.5,101.73L413.5,101.7L414.5,101.67L415.5,101.64L416.5,101.62L417.5,101.59L418.5,101.56L419.5,101.54L420.5,101.51L421.5,101.49L422.5,101.47L423.5,101.44L424.5,101.42L425.5,101.4L426.5,101.38L427.5,101.36L428.5,101.34L429.5,101.32L430.5,101.3L431.5,101.28L432.5,101.26L433.5,101.25L434.5,101.23L435.5,101.22L436.5,101.2L437.5,101.19L438.5,101.17L439.5,101.16L440.5,101.15L441.5,101.14L442.5,101.13L443.5,101.12L444.5,101.11L445.5,101.1L446.5,101.09L447.5,101.08L448.5,101.07L449.5,101.07L450.5,101.06L451.5,101.06L452.5,101.05L453.5,101.04L454.5,101.04L455.5,101.04L456.5,101.03L457.5,101.03L458.5,101.02L459.5,101.02L460.5,101.02L461.5,101.01L462.5,101.01L463.5,101.01L464.5,101L465.5,101L466.5,101L467.5,101L468.5,100.99" stroke="rgb(205,15,50)"/>
<path d="M56.5,57.31L57.5,59.58L58.5,61.85L59.5,64.11L60.5,66.38L61.5,68.63L62.5,70.89L63.5,73.14L64.5,75.38L65.5,77.62L66.5,79.85L67.5,82.07L68.5,84.29L69.5,86.5L70.5,88.7L71.5,90.9L72.5,93.09L73.5,95.26L74.5,97.43L75.5,99.59L76.5,101.74L77.5,103.88L78.5,106L79.5,108.11L80.5,110.21L81.5,112.29L82.5,114.36L83.5,116.41L84.5,118.44L85.5,120.46L86.5,122.46L87.5,124.44L88.5,126.4L89.5,128.33L90.5,130.24L91.5,132.13L92.5,133.98L93.5,135.81L94.5,137.61L95.5,139.38L96.5,141.11L97.5,142.81L98.5,144.48L99.5,146.11L100.5,147.69L101.5,149.24L102.5,150.74L103.5,152.2L104.5,153.62L105.5,155L106.5,156.33L107.5,157.62L108.5,158.87L109.5,160.06L110.5,161.21L111.5,162.32L112.5,163.37L113.5,164.38L114.5,165.35L115.5,166.26L116.5,167.13L117.5,167.96L118.5,168.74L119.5,169.47L120.5,170.17L121.5,170.82L122.5,171.42L123.5,171.99L124.5,172.52L125.5,173.01L126.5,173.46L127.5,173.88L128.5,174.26L129.5,174.6L130.5,174.91L131.5,175.18L132.5,175.42L133.5,175.62L134.5,175.79L135.5,175.93L136.5,176.03L137.5,176.1L138.5,176.14L139.5,176.15L140.5,176.12L141.5,176.07L142.5,175.98L143.5,175.86L144.5,175.71L145.5,175.53L146.5,175.32L147.5,175.08L148.5,174.81L149.5,174.52L150.5,174.2L151.5,173.85L152.5,173.47L153.5,173.08L154.5,172.65L155.5,172.21L156.5,171.74L157.5,171.25L158.5,170.74L159.5,170.21L160.5,169.66L161.5,169.1L162.5,168.52L163.5,167.93L164.5,167.32L165.5,166.71L166.5,166.09L167.5,165.46L168.5,164.83L169.5,164.19L170.5,163.56L171.5,162.92L172.5,162.29L173.5,161.65L174.5,161.02L175.5,160.39L176.5,159.76L177.5,159.13L178.5,158.51L179.5,157.89L180.5,157.27L181.5,156.66L182.5,156.05L183.5,155.45L184.5,154.86L185.5,154.27L186.5,153.69L187.5,153.12L188.5,152.55L189.5,152L190.5,151.46L191.5,150.92L192.5,150.4L193.5,149.89L194.5,149.4L195.5,148.92L196.5,148.45L197.5,148L198.5,147.56L199.5,147.14L200.5,146.74L201.5,146.36L202.5,145.99L203.5,145.64L204.5,145.31L205.5,144.99L206.5,144.69L207.5,144.41L208.5,144.15L209.5,143.9L210.5,143.67L211.5,143.45L212.5,143.26L213.5,143.07L214.5,142.91L215.5,142.75L216.5,142.62L217.5,142.5L218.5,142.39L219.5,142.29L220.5,142.21L221.5,142.14L222.5,142.09L223.5,142.05L224.5,142.02L225.5,142L226.5,141.99L227.5,141.99L228.5,142.01L229.5,142.03L230.5,142.07L231.5,142.12L232.5,142.17L233.5,142.24L234.5,142.33L235.5,142.42L236.5,142.52L237.5,142.63L238.5,142.76L239.5,142.89L240.5,143.04L241.5,143.2L242.5,143.37L243.5,143.56L244.5,143.75L245.5,143.96L246.5,144.18L247.5,144.41L248.5,144.66L249.5,144.91L250.5,145.18L251.5,145.45L252.5,145.74L253.5,146.03L254.5,146.34L255.5,146.65L256.5,146.97L257.5,147.3L258.5,147.63L259.5,147.97L260.5,148.32L261.5,148.67L262.5,149.02L263.5,149.38L264.5,149.74L265.5,150.1L266.5,150.47L267.5,150.84L268.5,151.21L269.5,151.58L270.5,151.96L271.5,152.34L272.5,152.72L273.5,153.1L274.5,153.48L275.5,153.86L276.5,154.24L277.5,154.62L278.5,154.99L279.5,155.37L280.5,155.74L281.5,156.1L282.5,156.46L283.5,156.82L284.5,157.17L285.5,157.52L286.5,157.87L287.5,158.21L288.5,158.55L289.5,158.89L290.5,159.23L291.5,159.56L292.5,159.89L293.5,160.22L294.5,160.54L295.5,160.86L296.5,161.19L297.5,161.51L298.5,161.82L299.5,162.14L300.5,162.45L301.5,162.77L302.5,163.07L303.5,163.38L304.5,163.69L305.5,163.99L306.5,164.28L307.5,164.57L308.5,164.86L309.5,165.14L310.5,165.42L311.5,165.7L312.5,165.96L313.5,166.23L314.5,166.49L315.5,166.75L316.5,167L317.5,167.25L318.5,167.49L319.5,167.73L320.5,167.96L321.5,168.19L322.5,168.42L323.5,168.64L324.5,168.86L325.5,169.07L326.5,169.29L327.5,169.5L328.5,169.7L329.5,169.9L330.5,170.1L331.5,170.3L332.5,170.5L333.5,170.69L334.5,170.88L335.5,171.07L336.5,171.25L337.5,171.43L338.5,171.61L339.5,171.79L340.5,171.97L341.5,172.14L342.5,172.31L343.5,172.49L344.5,172.66L345.5,172.83L346.5,172.99L347.5,173.16L348.5,173.33L349.5,173.5L350.5,173.66L351.5,173.82L352.5,173.98L353.5,174.14L354.5,174.29L355.5,174.44L356.5,174.59L357.5,174.73L358.5,174.87L359.5,175L360.5,175.13L361.5,175.25L362.5,175.37L363.5,175.49L364.5,175.6L365.5,175.7L366.5,175.81L367.5,175.9L368.5,176L369.5,176.09L370.5,176.18L371.5,176.26L372.5,176.34L373.5,176.41L374.5,176.48L375.5,176.55L376.5,176.61L377.5,176.67L378.5,176.73L379.5,176.78L380.5,176.82L381.5,176.87L382.5,176.9L383.5,176.94L384.5,176.96L385.5,176.99L386.5,177.01L387.5,177.02L388.5,177.04L389.5,177.04L390.5,177.04L391.5,177.04L392.5,177.04L393.5,177.03L394.5,177.01L395.5,176.99L396.5,176.97L397.5,176.94L398.5,176.91L399.5,176.88L400.5,176.84L401.5,176.8L402.5,176.75L403.5,176.7L404.5,176.64L405.5,176.58L406.5,176.52L407.5,176.45L408.5,176.38L409.5,176.31L410.5,176.23L411.5,176.14L412.5,176.06L413.5,175.97L414.5,175.87L415.5,175.77L416.5,175.67L417.5,175.56L418.5,175.45L419.5,175.34L420.5,175.22L421.5,175.1L422.5,174.97L423.5,174.84L424.5,174.71L425.5,174.57L426.5,174.43L427.5,174.28L428.5,174.13L429.5,173.98L430.5,173.82L431.5,173.66L432.5,173.5L433.5,173.33L434.5,173.16L435.5,172.99L436.5,172.81L437.5,172.63L438.5,172.45L439.5,172.26L440.5,172.07L441.5,171.88L442.5,171.68L443.5,171.48L444.5,171.28L445.5,171.07L446.5,170.87L447.5,170.66L448.5,170.44L449.5,170.23L450.5,170.01L451.5,169.79L452.5,169.57L453.5,169.35L454.5,169.12L455.5,168.9L456.5,168.67L457.5,168.44L458.5,168.21L459.5,167.98L460.5,167.75L461.5,167.51L462.5,167.28L463.5,167.05L464.5,166.81L465.5,166.58L466.5,166.34L467.5,166.11L468.5,165.87" stroke="rgb(45,172,68)"/>
</g>
<line x1="57.4" y1="149.85" x2="468.2" y2="149.85" stroke="#2a2a2a" stroke-width="1.8" stroke-dasharray="5.6 3.05"/>
<g stroke="#111" fill="none">
<line x1="57.3" y1="8.7" x2="57.3" y2="207.8" stroke-width="1.4"/>
<line x1="56.6" y1="203.8" x2="469.0" y2="203.8" stroke-width="1.4"/>
<line x1="468.3" y1="81.9" x2="468.3" y2="204.5" stroke-width="1.4"/>
<line x1="53" y1="21.55" x2="57.3" y2="21.55" stroke-width="1.3"/>
<line x1="53" y1="38.88" x2="57.3" y2="38.88" stroke-width="1.3"/>
<line x1="53" y1="68.50" x2="57.3" y2="68.50" stroke-width="1.3"/>
<line x1="53" y1="73.00" x2="57.3" y2="73.00" stroke-width="1.3"/>
<line x1="53" y1="78.04" x2="57.3" y2="78.04" stroke-width="1.3"/>
<line x1="53" y1="83.74" x2="57.3" y2="83.74" stroke-width="1.3"/>
<line x1="53" y1="90.33" x2="57.3" y2="90.33" stroke-width="1.3"/>
<line x1="53" y1="98.12" x2="57.3" y2="98.12" stroke-width="1.3"/>
<line x1="53" y1="107.66" x2="57.3" y2="107.66" stroke-width="1.3"/>
<line x1="53" y1="119.95" x2="57.3" y2="119.95" stroke-width="1.3"/>
<line x1="53" y1="137.28" x2="57.3" y2="137.28" stroke-width="1.3"/>
<line x1="53" y1="166.90" x2="57.3" y2="166.90" stroke-width="1.3"/>
<line x1="53" y1="171.40" x2="57.3" y2="171.40" stroke-width="1.3"/>
<line x1="53" y1="176.44" x2="57.3" y2="176.44" stroke-width="1.3"/>
<line x1="53" y1="182.14" x2="57.3" y2="182.14" stroke-width="1.3"/>
<line x1="53" y1="188.73" x2="57.3" y2="188.73" stroke-width="1.3"/>
<line x1="53" y1="196.52" x2="57.3" y2="196.52" stroke-width="1.3"/>
<line x1="57.30" y1="203.8" x2="57.30" y2="207.8" stroke-width="1.3"/>
<line x1="98.30" y1="203.8" x2="98.30" y2="207.8" stroke-width="1.3"/>
<line x1="139.30" y1="203.8" x2="139.30" y2="207.8" stroke-width="1.3"/>
<line x1="180.30" y1="203.8" x2="180.30" y2="207.8" stroke-width="1.3"/>
<line x1="221.30" y1="203.8" x2="221.30" y2="207.8" stroke-width="1.3"/>
<line x1="262.30" y1="203.8" x2="262.30" y2="207.8" stroke-width="1.3"/>
<line x1="303.30" y1="203.8" x2="303.30" y2="207.8" stroke-width="1.3"/>
<line x1="344.30" y1="203.8" x2="344.30" y2="207.8" stroke-width="1.3"/>
<line x1="385.30" y1="203.8" x2="385.30" y2="207.8" stroke-width="1.3"/>
<line x1="426.30" y1="203.8" x2="426.30" y2="207.8" stroke-width="1.3"/>
<line x1="467.30" y1="203.8" x2="467.30" y2="207.8" stroke-width="1.3"/>
<line x1="468.3" y1="179.82" x2="472.90" y2="179.82" stroke-width="1.15"/>
<line x1="468.3" y1="172.03" x2="471.40" y2="172.03" stroke-width="1.15"/>
<line x1="468.3" y1="165.44" x2="471.40" y2="165.44" stroke-width="1.15"/>
<line x1="468.3" y1="159.74" x2="471.40" y2="159.74" stroke-width="1.15"/>
<line x1="468.3" y1="154.70" x2="471.40" y2="154.70" stroke-width="1.15"/>
<line x1="468.3" y1="150.20" x2="472.90" y2="150.20" stroke-width="1.15"/>
<line x1="468.3" y1="146.13" x2="471.40" y2="146.13" stroke-width="1.15"/>
<line x1="468.3" y1="142.41" x2="471.40" y2="142.41" stroke-width="1.15"/>
<line x1="468.3" y1="138.99" x2="471.40" y2="138.99" stroke-width="1.15"/>
<line x1="468.3" y1="135.82" x2="471.40" y2="135.82" stroke-width="1.15"/>
<line x1="468.3" y1="132.87" x2="472.90" y2="132.87" stroke-width="1.15"/>
<line x1="468.3" y1="130.11" x2="471.40" y2="130.11" stroke-width="1.15"/>
<line x1="468.3" y1="127.52" x2="471.40" y2="127.52" stroke-width="1.15"/>
<line x1="468.3" y1="125.08" x2="471.40" y2="125.08" stroke-width="1.15"/>
<line x1="468.3" y1="122.77" x2="471.40" y2="122.77" stroke-width="1.15"/>
<line x1="468.3" y1="120.58" x2="472.90" y2="120.58" stroke-width="1.15"/>
<line x1="468.3" y1="118.49" x2="471.40" y2="118.49" stroke-width="1.15"/>
<line x1="468.3" y1="116.51" x2="471.40" y2="116.51" stroke-width="1.15"/>
<line x1="468.3" y1="114.61" x2="471.40" y2="114.61" stroke-width="1.15"/>
<line x1="468.3" y1="112.79" x2="471.40" y2="112.79" stroke-width="1.15"/>
<line x1="468.3" y1="111.04" x2="472.90" y2="111.04" stroke-width="1.15"/>
<line x1="468.3" y1="109.37" x2="471.40" y2="109.37" stroke-width="1.15"/>
<line x1="468.3" y1="107.75" x2="471.40" y2="107.75" stroke-width="1.15"/>
<line x1="468.3" y1="106.20" x2="471.40" y2="106.20" stroke-width="1.15"/>
<line x1="468.3" y1="104.70" x2="471.40" y2="104.70" stroke-width="1.15"/>
<line x1="468.3" y1="103.25" x2="472.90" y2="103.25" stroke-width="1.15"/>
<line x1="468.3" y1="101.85" x2="471.40" y2="101.85" stroke-width="1.15"/>
<line x1="468.3" y1="100.49" x2="471.40" y2="100.49" stroke-width="1.15"/>
<line x1="468.3" y1="99.18" x2="471.40" y2="99.18" stroke-width="1.15"/>
<line x1="468.3" y1="97.90" x2="471.40" y2="97.90" stroke-width="1.15"/>
<line x1="468.3" y1="96.66" x2="472.90" y2="96.66" stroke-width="1.15"/>
<line x1="468.3" y1="95.46" x2="471.40" y2="95.46" stroke-width="1.15"/>
<line x1="468.3" y1="94.29" x2="471.40" y2="94.29" stroke-width="1.15"/>
<line x1="468.3" y1="93.15" x2="471.40" y2="93.15" stroke-width="1.15"/>
<line x1="468.3" y1="92.04" x2="471.40" y2="92.04" stroke-width="1.15"/>
<line x1="468.3" y1="90.96" x2="472.90" y2="90.96" stroke-width="1.15"/>
</g>
<g font-family="Liberation Sans, sans-serif" font-size="10" fill="#111" stroke="#111" stroke-width="0.25">
<text x="47.6" y="25.15" text-anchor="end" letter-spacing="0.55">300</text>
<text x="47.6" y="42.48" text-anchor="end" letter-spacing="0.55">200</text>
<text x="47.6" y="76.60" text-anchor="end" letter-spacing="0.55">90</text>
<text x="47.6" y="87.34" text-anchor="end" letter-spacing="0.55">70</text>
<text x="47.6" y="101.72" text-anchor="end" letter-spacing="0.55">50</text>
<text x="47.6" y="111.26" text-anchor="end" letter-spacing="0.55">40</text>
<text x="47.6" y="123.55" text-anchor="end" letter-spacing="0.55">30</text>
<text x="47.6" y="140.88" text-anchor="end" letter-spacing="0.55">20</text>
<text x="47.6" y="175.00" text-anchor="end" letter-spacing="0.55">9</text>
<text x="47.6" y="185.74" text-anchor="end" letter-spacing="0.55">7</text>
<text x="47.6" y="200.12" text-anchor="end" letter-spacing="0.55">5</text>
<text x="57.30" y="219.6" text-anchor="middle">0</text>
<text x="98.30" y="219.6" text-anchor="middle">1</text>
<text x="139.30" y="219.6" text-anchor="middle">2</text>
<text x="180.30" y="219.6" text-anchor="middle">3</text>
<text x="221.30" y="219.6" text-anchor="middle">4</text>
<text x="262.30" y="219.6" text-anchor="middle">5</text>
<text x="303.30" y="219.6" text-anchor="middle">6</text>
<text x="344.30" y="219.6" text-anchor="middle">7</text>
<text x="385.30" y="219.6" text-anchor="middle">8</text>
<text x="426.30" y="219.6" text-anchor="middle">9</text>
<text x="467.70" y="219.6" text-anchor="middle" letter-spacing="0.8">10</text>
<text x="476.3" y="183.42" letter-spacing="0.3">0.5</text>
<text x="476.3" y="153.80" letter-spacing="0.3">1.0</text>
<text x="476.3" y="136.47" letter-spacing="0.3">1.5</text>
<text x="476.3" y="124.18" letter-spacing="0.3">2.0</text>
<text x="476.3" y="114.64" letter-spacing="0.3">2.5</text>
<text x="476.3" y="100.26" letter-spacing="0.3">3.5</text>
</g>
<g stroke-width="1.55">
<line x1="89.3" y1="25.8" x2="99.5" y2="25.8" stroke="rgb(35,92,152)"/>
<line x1="89.3" y1="38.1" x2="99.5" y2="38.1" stroke="rgb(208,28,60)"/>
<line x1="89.3" y1="50.4" x2="99.5" y2="50.4" stroke="rgb(55,178,75)"/>
</g>
<g font-family="Liberation Sans, sans-serif" font-size="10.4" fill="#111" stroke="#111" stroke-width="0.2">
<text transform="translate(103.6,28.7) scale(0.95,1)">Patients</text>
<text transform="translate(103.6,41.0) scale(0.95,1)">Matched comparators</text>
<text transform="translate(103.6,53.3) scale(0.95,1)">Incidence rate ratio (IRR)</text>
</g>
<g font-family="Liberation Sans, sans-serif" font-size="12" fill="#111" stroke="#111" stroke-width="0.3">
<text transform="translate(19.7,108.5) rotate(-90) scale(0.755,1)" text-anchor="middle">CVD rate per 1,000 person years</text>
<text transform="translate(262.75,237.5) scale(0.742,1)" text-anchor="middle">Time (years)</text>
<text transform="translate(499.4,143.3) rotate(90) scale(0.755,1)" text-anchor="middle">Incidence rate ratio</text>
</g>
<rect x="0.75" y="0.75" width="518.5" height="246.5" fill="none" stroke="#000" stroke-width="1.5"/>
</svg>
</body></html>
